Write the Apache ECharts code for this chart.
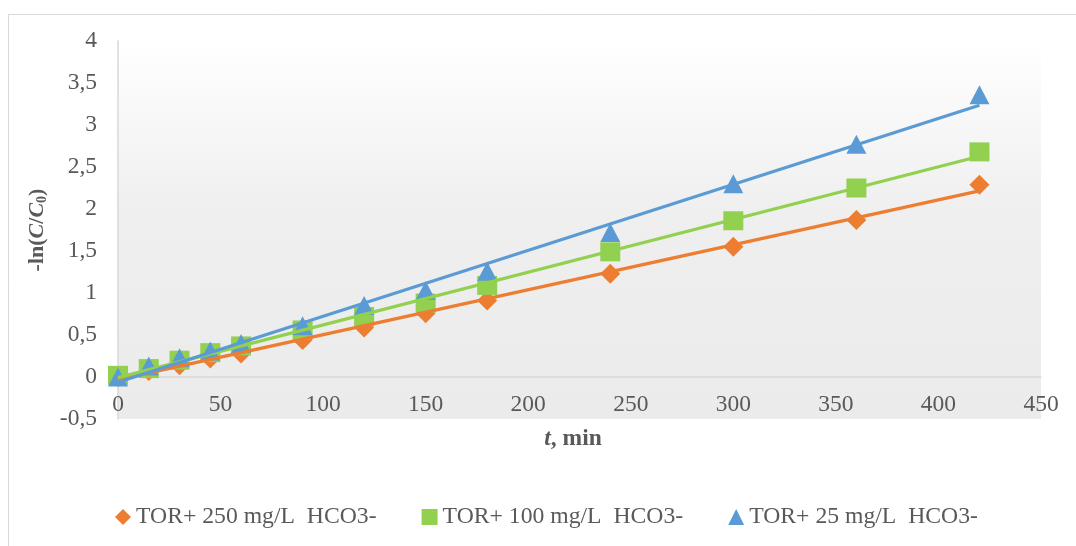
<!DOCTYPE html>
<html>
<head>
<meta charset="utf-8">
<script src="https://cdn.jsdelivr.net/npm/echarts@6/dist/echarts.min.js"></script>
<style>
  html, body { margin: 0; padding: 0; background: #fff; }
  #main { width: 1076px; height: 546px; }
</style>
</head>
<body>
<div id="main"></div>
<script>
// time points, min
const times = [0, 15, 30, 45, 60, 90, 120, 150, 180, 240, 300, 360, 420];
// -ln(C/C0) for each bicarbonate level
const hco3_250 = [0, 0.07, 0.14, 0.22, 0.28, 0.44, 0.59, 0.76, 0.91, 1.23, 1.55, 1.87, 2.29];
const hco3_100 = [0.02, 0.1, 0.2, 0.29, 0.37, 0.56, 0.72, 0.88, 1.09, 1.49, 1.86, 2.25, 2.68];
const hco3_25 = [0, 0.13, 0.23, 0.31, 0.4, 0.61, 0.85, 1.03, 1.26, 1.72, 2.3, 2.77, 3.36];
const seriesNames = ['TOR+ 250 mg/L  HCO3-', 'TOR+ 100 mg/L  HCO3-', 'TOR+ 25 mg/L  HCO3-'];

const colors = ['#ED7D31', '#92D050', '#5B9BD5'];
const symbols = ['diamond', 'rect', 'triangle'];
const symbolSizes = [[20, 20], [20, 19], [20, 19]];
const textColor = '#595959';
const font = 'Liberation Serif';

// least squares fit, like excel's linear trendline
function linFit(xs, ys) {
  const n = xs.length;
  let sx = 0, sy = 0, sxx = 0, sxy = 0;
  for (let i = 0; i < n; i++) {
    sx += xs[i]; sy += ys[i];
    sxx += xs[i] * xs[i]; sxy += xs[i] * ys[i];
  }
  const b = (n * sxy - sx * sy) / (n * sxx - sx * sx);
  const a = (sy - b * sx) / n;
  const x0 = xs[0], x1 = xs[n - 1];
  return [[x0, a + b * x0], [x1, a + b * x1]];
}

const allValues = [hco3_250, hco3_100, hco3_25];

const scatterSeries = allValues.map((vals, i) => ({
  name: seriesNames[i],
  type: 'scatter',
  symbol: symbols[i],
  symbolSize: symbolSizes[i],
  itemStyle: { color: colors[i], opacity: 1 },
  z: 2,
  data: times.map((t, k) => [t, vals[k]])
}));

const trendSeries = allValues.map((vals, i) => ({
  type: 'line',
  symbol: 'none',
  silent: true,
  lineStyle: { color: colors[i], width: 3.3 },
  z: 3,
  data: linFit(times, vals)
}));

const myChart = echarts.init(document.getElementById('main'));

const option = {
  animation: false,
  textStyle: { fontFamily: font },
  graphic: [{
    type: 'rect',
    left: 6, top: 12,
    shape: { width: 1100, height: 560 },
    style: { fill: 'none', stroke: '#d9d9d9', lineWidth: 1 },
    z: -10
  }],
  grid: {
    left: 118, right: 35, top: 41, bottom: 127,
    show: true,
    borderWidth: 0,
    backgroundColor: new echarts.graphic.LinearGradient(0, 0, 0, 1, [
      { offset: 0, color: '#ffffff' },
      { offset: 0.45, color: '#efefef' },
      { offset: 1, color: '#ebebeb' }
    ])
  },
  legend: {
    data: seriesNames.map((n, i) => ({ name: n, icon: symbols[i] })),
    left: 115,
    top: 505,
    padding: 0,
    itemWidth: 16,
    itemHeight: 16,
    itemGap: 45,
    textStyle: { color: textColor, fontSize: 23.7, fontFamily: font }
  },
  xAxis: {
    type: 'value',
    min: 0, max: 450, interval: 50,
    // axis sits at y = 0, half a unit above the plot bottom
    offset: -42,
    axisLine: { onZero: false, lineStyle: { color: '#d9d9d9', width: 1.5 } },
    axisTick: { show: false },
    splitLine: { show: false },
    axisLabel: { color: textColor, fontSize: 23.5, margin: 16 },
    name: '{i|t}, min',
    nameLocation: 'middle',
    nameMoveOverlap: false,
    nameGap: 50,
    nameTextStyle: {
      color: textColor, fontSize: 23.5, fontWeight: 'bold',
      padding: [0, 13, 0, 0],
      rich: { i: { fontStyle: 'italic', fontWeight: 'bold', fontSize: 23.5, color: textColor } }
    }
  },
  yAxis: {
    type: 'value',
    min: -0.5, max: 4, interval: 0.5,
    axisLine: { show: true, lineStyle: { color: '#d9d9d9', width: 1.5 } },
    axisTick: { show: false },
    splitLine: { show: false },
    axisLabel: {
      color: textColor, fontSize: 23.5, margin: 21,
      formatter: v => String(v).replace('.', ',')
    },
    name: '-ln({i|C}/{i|C}{s|0})',
    nameLocation: 'middle',
    nameGap: 59,
    nameTextStyle: {
      color: textColor, fontSize: 22, fontWeight: 'bold',
      rich: {
        i: { fontStyle: 'italic', fontWeight: 'bold', fontSize: 22, color: textColor },
        s: { fontWeight: 'bold', fontSize: 14, color: textColor, verticalAlign: 'bottom', padding: [10, 0, 0, 0] }
      }
    }
  },
  series: [...scatterSeries, ...trendSeries]
};

myChart.setOption(option);
</script>
</body>
</html>
